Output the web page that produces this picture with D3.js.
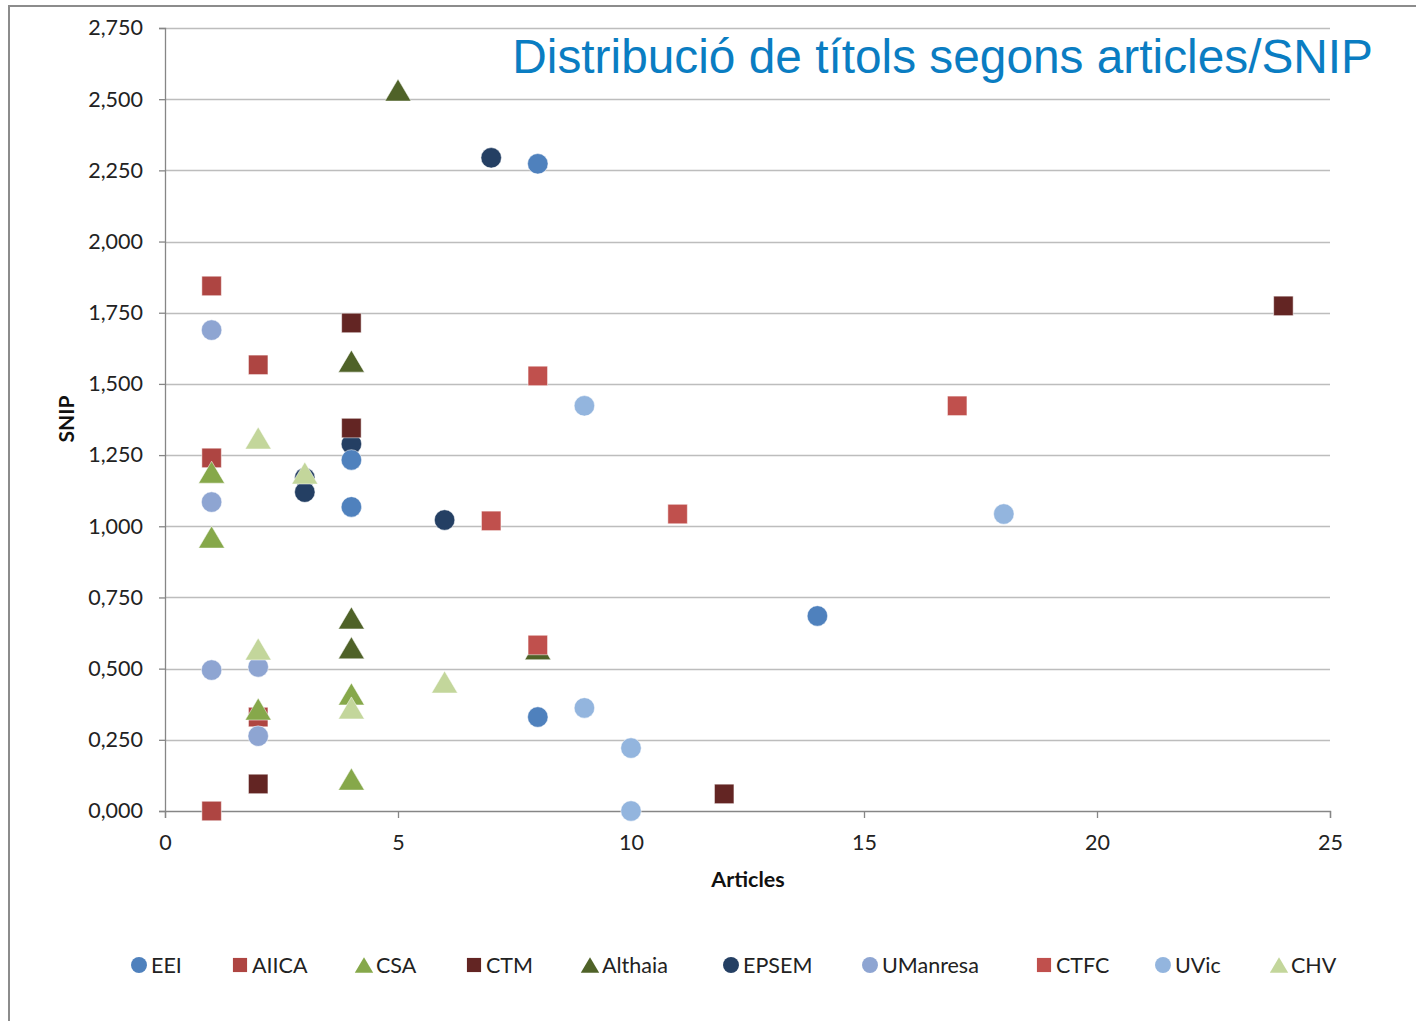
<!DOCTYPE html>
<html>
<head>
<meta charset="utf-8">
<script src="https://cdn.jsdelivr.net/npm/d3@7"></script>
<style>
  body { margin: 0; background: #fff; }
  svg text { font-family: Lato, "Open Sans", "DejaVu Sans", sans-serif; }
</style>
</head>
<body>
<div id="chart"></div>
<script>
// data: [articles, SNIP]
var seriesNames = ["EEI", "AIICA", "CSA", "CTM", "Althaia", "EPSEM", "UManresa", "CTFC", "UVic", "CHV"];
var seriesShapes = ["circle", "square", "triangle", "square", "triangle", "circle", "circle", "square", "circle", "triangle"];
var seriesColors = ["#4F81BD", "#AE4542", "#86A84A", "#632523", "#4F6228", "#243F63", "#8EA5D2", "#C0504D", "#93B5DE", "#C3D69B"];

var eei      = [[8, 2.273], [4, 1.233], [4, 1.068], [14, 0.685], [8, 0.330]];
var aiica    = [[1, 1.844], [2, 1.567], [1, 1.240], [2, 0.330], [1, 0.000]];
var csa      = [[1, 1.190], [1, 0.962], [2, 0.358], [4, 0.411], [4, 0.112]];
var ctm      = [[4, 1.714], [4, 1.345], [2, 0.095], [12, 0.060], [24, 1.774]];
var althaia  = [[5, 2.532], [4, 1.580], [4, 0.678], [4, 0.573], [8, 0.570]];
var epsem    = [[7, 2.294], [4, 1.289], [3, 1.170], [3, 1.120], [6, 1.022]];
var umanresa = [[1, 1.689], [1, 1.085], [1, 0.495], [2, 0.506], [2, 0.263]];
var ctfc     = [[8, 1.528], [7, 1.019], [11, 1.043], [17, 1.423], [8, 0.583]];
var uvic     = [[9, 1.423], [18, 1.043], [9, 0.362], [10, 0.221], [10, 0.000]];
var chv      = [[2, 1.310], [3, 1.187], [2, 0.569], [4, 0.362], [6, 0.453]];

var seriesValues = [eei, aiica, csa, ctm, althaia, epsem, umanresa, ctfc, uvic, chv];
// order marks were stacked in the original (EPSEM sits underneath)
var drawOrder = [5, 0, 1, 2, 3, 4, 6, 7, 8, 9];

var xTicks = [0, 5, 10, 15, 20, 25];
var yTicks = [0, 0.25, 0.5, 0.75, 1, 1.25, 1.5, 1.75, 2, 2.25, 2.5, 2.75];

var titleText = "Distribució de títols segons articles/SNIP";
var xTitle = "Articles";
var yTitle = "SNIP";

var totalWidth = 1416, totalHeight = 1021;
var margin = {left: 165, right: 86, top: 28, bottom: 210};
var width = totalWidth - margin.left - margin.right;
var height = totalHeight - margin.top - margin.bottom;

var svg = d3.select("#chart").append("svg")
  .attr("width", totalWidth)
  .attr("height", totalHeight);

// outer frame (only top and left show in the picture)
svg.append("path")
  .attr("d", "M9,1021 V6 H1416")
  .attr("fill", "none")
  .attr("stroke", "#8c8c8c")
  .attr("stroke-width", 2);

var xScale = d3.scaleLinear().domain([0, 25]).range([0, width]);
var yScale = d3.scaleLinear().domain([0, 2.75]).range([height, 0]);

var g = svg.append("g").attr("transform", "translate(" + margin.left + "," + margin.top + ")");

// horizontal gridlines
g.selectAll(".grid")
  .data(yTicks.slice(1))
  .enter().append("line")
  .attr("class", "grid")
  .attr("x1", 0).attr("x2", width)
  .attr("y1", function(d) { return Math.round(yScale(d)) + 0.5; })
  .attr("y2", function(d) { return Math.round(yScale(d)) + 0.5; })
  .attr("stroke", "#bdbdbd")
  .attr("stroke-width", 1.3);

var fmtY = function(d) { return d3.format(".3f")(d).replace(".", ","); };

var yAxis = d3.axisLeft(yScale).tickValues(yTicks).tickFormat(fmtY).tickSize(6).tickPadding(16);
var yg = g.append("g").call(yAxis);
var xAxis = d3.axisBottom(xScale).tickValues(xTicks).tickSize(7).tickPadding(17);
var xg = g.append("g").attr("transform", "translate(0," + height + ")").call(xAxis);

[yg, xg].forEach(function(ax) {
  ax.select(".domain").attr("stroke", "#868686").attr("stroke-width", 1.3);
  ax.selectAll(".tick line").attr("stroke", "#868686").attr("stroke-width", 1.3);
  ax.selectAll(".tick text")
    .attr("fill", "#222")
    .style("font-size", "21.5px")
    .style("font-family", "Lato, 'Open Sans', sans-serif");
});

// axis titles
svg.append("text")
  .attr("x", 748).attr("y", 887)
  .attr("text-anchor", "middle")
  .style("font-size", "21.5px").style("font-weight", "bold")
  .attr("fill", "#111")
  .text(xTitle);

svg.append("text")
  .attr("transform", "translate(74,419) rotate(-90)")
  .attr("text-anchor", "middle")
  .style("font-size", "21px").style("font-weight", "bold")
  .attr("fill", "#111")
  .text(yTitle);

// title, right aligned
var title = svg.append("text")
  .attr("x", 1373).attr("y", 73)
  .attr("text-anchor", "end")
  .attr("fill", "#0A7DC2")
  .style("font-family", "'Liberation Sans', Arial, sans-serif")
  .style("font-size", "46px")
  .text(titleText);
var tw = title.node().getComputedTextLength();
title.style("font-size", (46 * 861 / tw) + "px");

function markerPath(shape, size) {
  if (shape === "circle") return d3.symbol(d3.symbolCircle, size)();
  if (shape === "square") return d3.symbol(d3.symbolSquare, size)();
  var w = Math.sqrt(size) * 1.3, h = Math.sqrt(size) * 1.1;
  return "M0," + (-h / 2) + "L" + (w / 2) + "," + (h / 2) + "L" + (-w / 2) + "," + (h / 2) + "Z";
}

var markerSize = {circle: 330, square: 380, triangle: 400};

drawOrder.forEach(function(i) {
  g.append("g").selectAll("path")
    .data(seriesValues[i])
    .enter().append("path")
    .attr("d", markerPath(seriesShapes[i], markerSize[seriesShapes[i]]))
    .attr("transform", function(d) { return "translate(" + xScale(d[0]) + "," + yScale(d[1]) + ")"; })
    .attr("fill", seriesColors[i])
    .attr("stroke", "#ffffff")
    .attr("stroke-opacity", 0.5)
    .attr("stroke-width", 1);
});

// legend
var legendX = [139, 240, 364, 474, 590, 731, 870, 1044, 1163, 1279];
var legend = svg.selectAll(".legend")
  .data(seriesNames)
  .enter().append("g")
  .attr("class", "legend")
  .attr("transform", function(d, i) { return "translate(" + legendX[i] + ",965)"; });

legend.append("path")
  .attr("d", function(d, i) { return markerPath(seriesShapes[i], 200); })
  .attr("fill", function(d, i) { return seriesColors[i]; });

legend.append("text")
  .attr("x", 12).attr("y", 7.5)
  .style("font-size", "21.5px")
  .attr("fill", "#222")
  .text(function(d) { return d; });
</script>
</body>
</html>
